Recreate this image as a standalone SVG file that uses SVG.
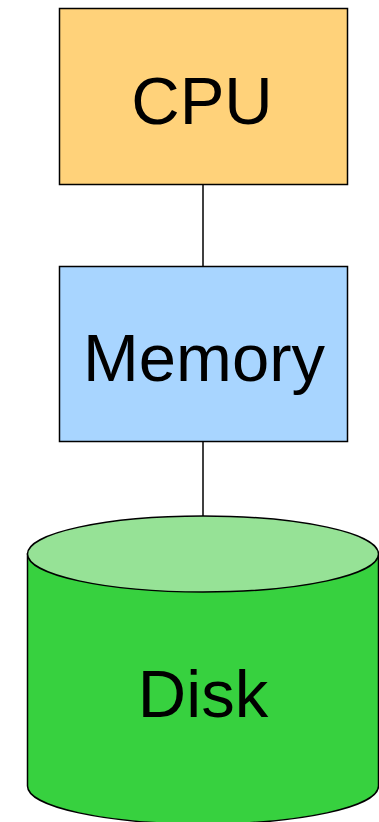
<svg xmlns="http://www.w3.org/2000/svg" width="379" height="822" viewBox="0 0 379 822">
<style>
.box{stroke:#000;stroke-width:1.5}
.lbl{font-family:"Liberation Sans",Arial,sans-serif;font-size:67px;fill:#000;text-anchor:middle}
.conn{stroke:#000;stroke-width:1.5;fill:none}
</style>
<rect width="379" height="822" fill="#fff"/>
<g id="connectors">
<line class="conn" x1="203" y1="184" x2="203" y2="266"/>
<line class="conn" x1="203" y1="442" x2="203" y2="516"/>
</g>
<g id="cpu">
<rect class="box" x="59.5" y="8.5" width="288" height="176" fill="#FFD27A"/>
<text class="lbl" x="202" y="124">CPU</text>
</g>
<g id="memory">
<rect class="box" x="59.5" y="266.5" width="288" height="175" fill="#A8D5FF"/>
<text class="lbl" x="204" y="381">Memory</text>
</g>
<g id="disk">
<path class="box" d="M27.5,554 L27.5,786 A175.5,38 0 0 0 378.5,786 L378.5,554 Z" fill="#37D13F"/>
<ellipse class="box" cx="203" cy="554" rx="175.5" ry="38" fill="#96E296"/>
<text class="lbl" x="203" y="717">Disk</text>
</g>
</svg>
